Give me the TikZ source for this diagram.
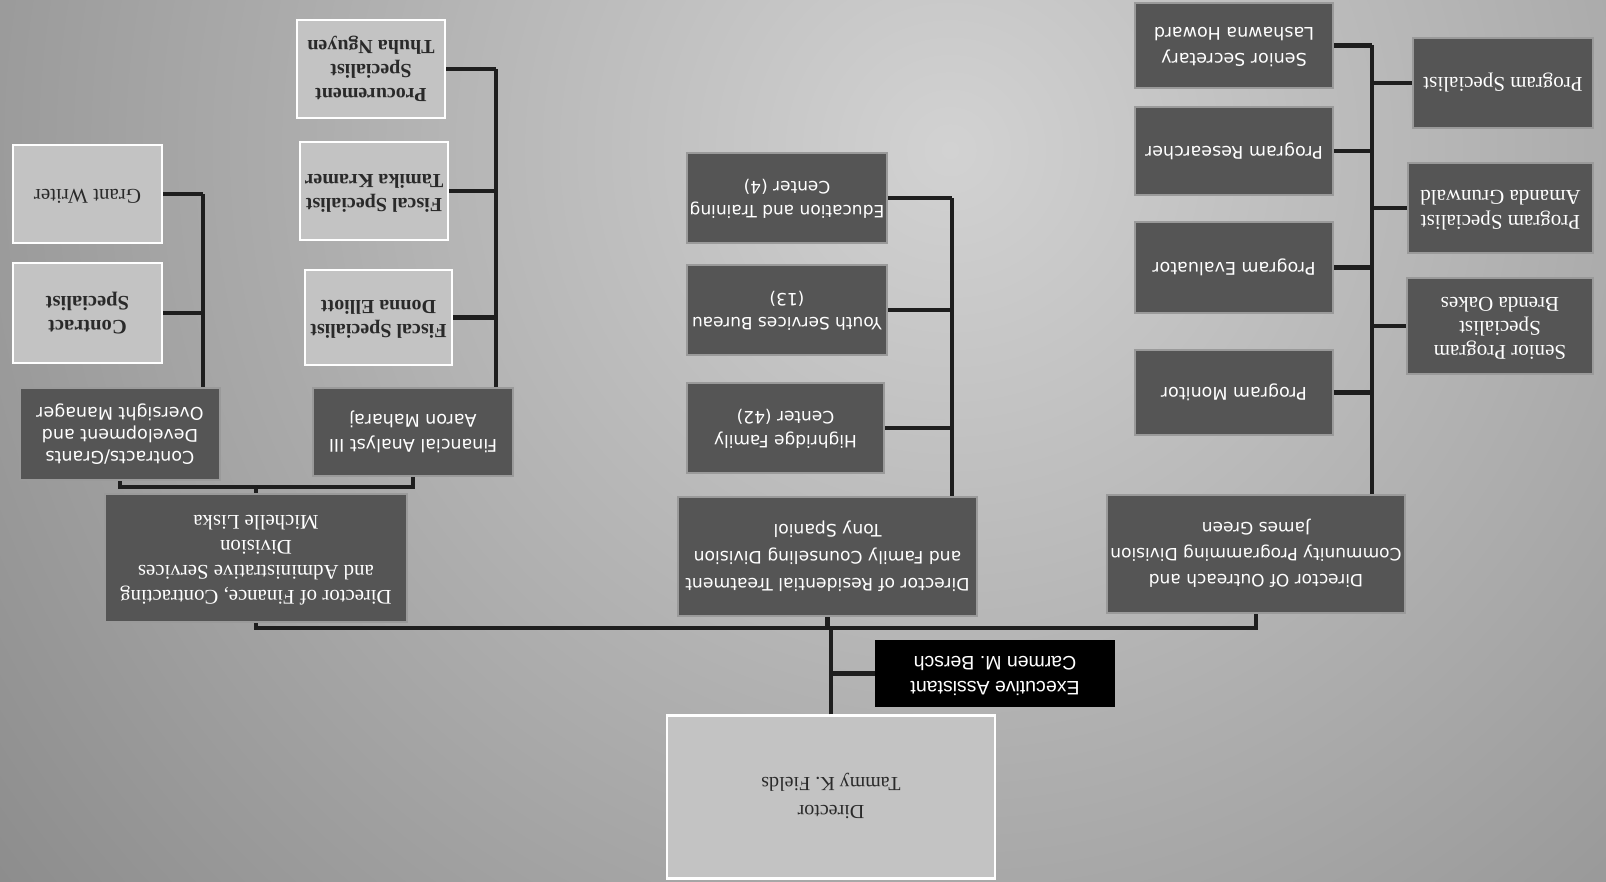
\documentclass[tikz,border=0pt]{standalone}
\usepackage{fontspec}
\setmainfont{Liberation Serif}
\newfontfamily\sansf{DejaVu Sans}
\newfontfamily\arialf{Liberation Sans}
\usepackage{graphicx}
\definecolor{bgin}{HTML}{D2D2D2}
\definecolor{bgout}{HTML}{8A8A8A}
\definecolor{dk}{HTML}{555555}
\definecolor{dkedge}{HTML}{9A9A9A}
\definecolor{lt}{HTML}{C3C3C3}
\definecolor{lttext}{HTML}{2A2A2A}
\definecolor{conncol}{HTML}{1E1E1E}
\newcommand{\RT}[2]{\rotatebox{180}{#1\begin{tabular}{@{}c@{}}#2\end{tabular}}}
\newcommand{\fsz}[2]{\fontsize{#1}{#2}\selectfont}
\tikzset{
  dbox/.style={draw=dkedge, line width=2.5pt, fill=dk, text=white, inner sep=0pt},
  lbox/.style={draw=white, line width=2.5pt, fill=lt, text=lttext, inner sep=0pt},
  bbox/.style={draw=none, fill=black, text=white, inner sep=0pt},
  conn/.style={line width=4.5pt, draw=conncol, line join=miter},
}
\begin{document}
\begin{tikzpicture}[x=1pt,y=-1pt]
\useasboundingbox (0,0) rectangle (1606,882);
\begin{scope}
\clip (0,0) rectangle (1606,882);
\shade[inner color=bgin, outer color=bgout] (950,150) circle (1250);
\end{scope}

% helper coordinates
\coordinate (bus) at (0,628);
\coordinate (fbus) at (0,487);
\coordinate (cv) at (203,0);
\coordinate (fv) at (496,0);
\coordinate (rv) at (952,0);
\coordinate (ov) at (1372,0);

% top level
\node[lbox, minimum width=328, minimum height=163] (dir) at (831,797)
  {\RT{\fsz{20}{28}}{Director\\Tammy K. Fields}};
\node[bbox, minimum width=240, minimum height=67] (ea) at (995,673.5)
  {\RT{\arialf\fsz{19.5}{25}}{Executive Assistant\\Carmen M. Bersch}};

% level 2
\node[dbox, minimum width=302, minimum height=128] (fin) at (256,558)
  {\RT{\fsz{20.8}{25}}{Director of Finance, Contracting\\and Administrative Services\\Division\\Michelle Liska}};
\node[dbox, minimum width=299, minimum height=119] (res) at (827.5,556.5)
  {\RT{\sansf\fsz{17.2}{27}}{Director of Residential Treatment\\and Family Counseling Division\\Tony Spaniol}};
\node[dbox, minimum width=298, minimum height=118] (out) at (1256,554)
  {\RT{\sansf\fsz{17}{26}}{Director Of Outreach and\\Community Programming Division\\James Green}};

% finance children
\node[dbox, minimum width=200, minimum height=92] (cgm) at (120,434)
  {\RT{\sansf\fsz{17.5}{22}}{Contracts/Grants\\Development and\\Oversight Manager}};
\node[lbox, minimum width=149, minimum height=100] (csp) at (87.5,313)
  {\RT{\bfseries\fsz{20.5}{24}}{Contract\\Specialist}};
\node[lbox, minimum width=149, minimum height=98] (gw) at (87.5,194)
  {\RT{\fsz{21}{24}}{Grant Writer}};
\node[dbox, minimum width=200, minimum height=88] (fa) at (413,432)
  {\RT{\sansf\fsz{17.5}{25}}{Financial Analyst III\\Aaron Maharaj}};
\node[lbox, minimum width=147, minimum height=95] (fs1) at (378.5,317.5)
  {\RT{\bfseries\fsz{20}{24}}{Fiscal Specialist\\Donna Elliott}};
\node[lbox, minimum width=148, minimum height=98] (fs2) at (374,191)
  {\RT{\bfseries\fsz{20}{24}}{Fiscal Specialist\\Tamika Kramer}};
\node[lbox, minimum width=148, minimum height=98] (pr) at (371,69)
  {\RT{\bfseries\fsz{20}{24}}{Procurement\\Specialist\\Thuha Nguyen}};

% residential children
\node[dbox, minimum width=200, minimum height=90] (etc) at (787,198)
  {\RT{\sansf\fsz{17}{24}}{Education and Training\\Center (4)}};
\node[dbox, minimum width=200, minimum height=90] (ysb) at (787,310)
  {\RT{\sansf\fsz{17}{24}}{Youth Services Bureau\\(13)}};
\node[dbox, minimum width=197, minimum height=90] (hfc) at (785.5,428)
  {\RT{\sansf\fsz{17}{24}}{Highridge Family\\Center (42)}};

% outreach children
\node[dbox, minimum width=198, minimum height=85] (ss) at (1234,45.5)
  {\RT{\sansf\fsz{17.5}{26}}{Senior Secretary\\Lashawna Howard}};
\node[dbox, minimum width=198, minimum height=88] (prs) at (1234,151)
  {\RT{\sansf\fsz{17.5}{24}}{Program Researcher}};
\node[dbox, minimum width=198, minimum height=91] (pe) at (1234,267.5)
  {\RT{\sansf\fsz{17.5}{24}}{Program Evaluator}};
\node[dbox, minimum width=198, minimum height=85] (pm) at (1234,392.5)
  {\RT{\sansf\fsz{17.5}{24}}{Program Monitor}};
\node[dbox, minimum width=180, minimum height=90] (ps1) at (1503,83)
  {\RT{\fsz{21}{25}}{Program Specialist}};
\node[dbox, minimum width=185, minimum height=90] (ps2) at (1500.5,208)
  {\RT{\fsz{21}{25}}{Program Specialist\\Amanda Grunwald}};
\node[dbox, minimum width=186, minimum height=96] (sps) at (1500,326)
  {\RT{\fsz{21}{24}}{Senior Program\\Specialist\\Brenda Oakes}};

% main connectors
\draw[conn] (fin.south) -- (fin.south |- bus) -- (out.south |- bus) -- (out.south);
\draw[conn] (res.south) -- (res.south |- bus);
\draw[conn] (dir.north) -- (dir.north |- bus);
\draw[conn] (dir.north |- ea.west) -- (ea.west);

% finance sub connectors
\draw[conn] (fin.north) -- (fin.north |- fbus);
\draw[conn] (cgm.south) -- (cgm.south |- fbus) -- (fa.south |- fbus) -- (fa.south);

\draw[conn] (cgm.north -| cv) -- (gw.east -| cv);
\draw[conn] (gw.east) -- (gw.east -| cv);
\draw[conn] (csp.east) -- (csp.east -| cv);

\draw[conn] (fa.north -| fv) -- (pr.east -| fv);
\draw[conn] (pr.east) -- (pr.east -| fv);
\draw[conn] (fs2.east) -- (fs2.east -| fv);
\draw[conn] (fs1.east) -- (fs1.east -| fv);

% residential connectors
\draw[conn] (res.north -| rv) -- (etc.east -| rv);
\draw[conn] (etc.east) -- (etc.east -| rv);
\draw[conn] (ysb.east) -- (ysb.east -| rv);
\draw[conn] (hfc.east) -- (hfc.east -| rv);

% outreach connectors
\draw[conn] (out.north -| ov) -- (ss.east -| ov);
\draw[conn] (ss.east) -- (ss.east -| ov);
\draw[conn] (prs.east) -- (prs.east -| ov);
\draw[conn] (pe.east) -- (pe.east -| ov);
\draw[conn] (pm.east) -- (pm.east -| ov);
\draw[conn] (ps1.west) -- (ps1.west -| ov);
\draw[conn] (ps2.west) -- (ps2.west -| ov);
\draw[conn] (sps.west) -- (sps.west -| ov);
\end{tikzpicture}
\end{document}
